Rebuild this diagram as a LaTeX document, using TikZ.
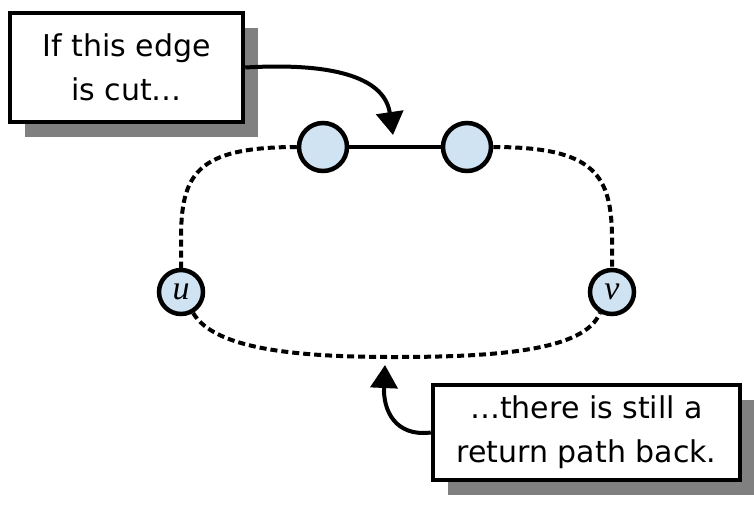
\documentclass[tikz,border=0pt]{standalone}
\usepackage{fontspec}
\setmainfont{DejaVu Sans}
\newfontfamily\varfont{Liberation Serif}
\usetikzlibrary{arrows.meta,shadows}
\definecolor{nodeblue}{HTML}{CFE3F3}
\definecolor{shadowgray}{HTML}{808080}
\tikzset{
  callout/.style={draw, line width=4.5pt, fill=white, align=center,
    font=\fontsize{30}{44}\selectfont, inner sep=0pt,
    drop shadow={shadow xshift=15pt, shadow yshift=-15pt, fill=shadowgray, opacity=1}},
  vert/.style={circle, draw, line width=4.5pt, fill=nodeblue, inner sep=0pt},
  varlabel/.style={font=\fontsize{34}{34}\selectfont\varfont\itshape},
  dashedge/.style={line width=4pt, dash pattern=on 7pt off 4pt},
  solidedge/.style={line width=4pt},
  pointer/.style={line width=4pt, -{Triangle[width=27pt,length=23pt]}}
}
\begin{document}
\begin{tikzpicture}[x=1pt,y=-1pt]
\path[use as bounding box] (0,0) rectangle (754,504);
% callouts
\node[callout, minimum width=233pt, minimum height=109pt] (b1) at (126.5,67.5) {If this edge\\is cut…};
\node[callout, minimum width=307pt, minimum height=95pt] (b2) at (586.5,432.5) {…there is still a\\return path back.};
% vertices
\node[vert, minimum size=48pt] (a) at (323,147) {};
\node[vert, minimum size=48pt] (b) at (467,147) {};
\node[vert, minimum size=44pt, varlabel] (u) at (181,292) {u};
\node[vert, minimum size=44pt, varlabel] (v) at (612,292) {v};
% edges
\draw[solidedge] (a) -- (b);
\draw[dashedge] (a.west) .. controls (195,147) and (181,175) .. (181,240) -- (u.north);
\draw[dashedge] (b.east) .. controls (595,147) and (612,175) .. (612,240) -- (v.north);
\coordinate (bot) at (395,357);
\draw[dashedge] (u.-60) .. controls (215,350) and (300,357) .. (bot) .. controls (500,357) and (585,350) .. (v.-120);
% pointers
\draw[pointer] (b1.east) .. controls (340,62) and (385,80) .. (393,135);
\draw[pointer] (b2.west) .. controls (395,437) and (383,410) .. (385,365);
\end{tikzpicture}
\end{document}
